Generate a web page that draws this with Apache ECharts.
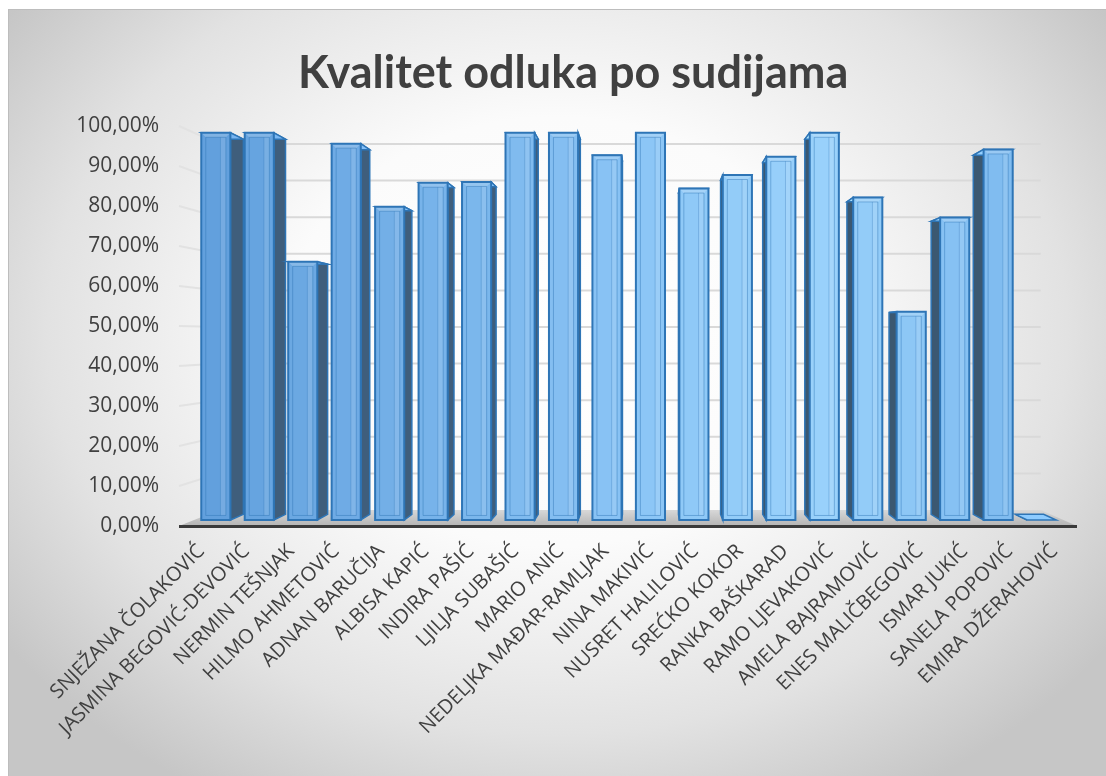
<!DOCTYPE html>
<html>
<head>
<meta charset="utf-8">
<title>Kvalitet odluka po sudijama</title>
<script src="https://cdn.jsdelivr.net/npm/echarts@6/dist/echarts.min.js"></script>
<style>
  html, body { margin: 0; padding: 0; background: #fff; }
  #chart {
    position: absolute; left: 8px; top: 9px; width: 1098px; height: 767px;
    border-top: 1px solid #bdbdbd; border-left: 1px solid #bdbdbd; box-sizing: border-box;
    background: radial-gradient(ellipse 62% 70% at 50% 42%, #ffffff 0%, #fbfbfb 40%, #e2e2e2 75%, #c6c6c6 100%);
  }
</style>
</head>
<body>
<div id="chart"></div>
<script>
// podaci
var judges = ['SNJEŽANA ČOLAKOVIĆ', 'JASMINA BEGOVIĆ-DEVOVIĆ', 'NERMIN TEŠNJAK', 'HILMO AHMETOVIĆ',
  'ADNAN BARUČIJA', 'ALBISA KAPIĆ', 'INDIRA PAŠIĆ', 'LJILJA SUBAŠIĆ', 'MARIO ANIĆ',
  'NEDELJKA MAĐAR-RAMLJAK', 'NINA MAKIVIĆ', 'NUSRET HALILOVIĆ', 'SREĆKO KOKOR', 'RANKA BAŠKARAD',
  'RAMO LJEVAKOVIĆ', 'AMELA BAJRAMOVIĆ', 'ENES MALIČBEGOVIĆ', 'ISMAR JUKIĆ', 'SANELA POPOVIĆ',
  'EMIRA DŽERAHOVIĆ'];
var quality = [1.0, 1.0, 0.6667, 0.972, 0.809, 0.871, 0.873, 1.0, 1.0, 0.942, 1.0, 0.856,
  0.891, 0.938, 1.0, 0.833, 0.538, 0.781, 0.957, 0];
var gridTicks = [0.1, 0.2, 0.3, 0.4, 0.5, 0.6, 0.7, 0.8, 0.9, 1.0];

// "3D" pogled: tacka nestajanja i dubine (udio prema tacki nestajanja)
var VP_FX = 0.525, VP_FY = 0.53;
var D_FRONT = 0.032, D_BACK = 0.062, D_WALL = 0.085;

function vanish(cs) {
  return [cs.x + cs.width * VP_FX, cs.y + cs.height * VP_FY];
}
function proj(x, y, d, vp) {
  return [x + (vp[0] - x) * d, y + (vp[1] - y) * d];
}
function lerpColor(t) {
  var stops = [[0, [96, 158, 220]], [0.5, [138, 196, 245]], [0.72, [154, 210, 251]], [1, [118, 180, 236]]];
  for (var i = 1; i < stops.length; i++) {
    if (t <= stops[i][0]) {
      var a = stops[i - 1], b = stops[i];
      var k = (t - a[0]) / (b[0] - a[0]);
      return [0, 1, 2].map(function (j) { return Math.round(a[1][j] + (b[1][j] - a[1][j]) * k); });
    }
  }
  return stops[stops.length - 1][1];
}
function rgb(c, add) {
  add = add || 0;
  return 'rgb(' + c.map(function (v) { return Math.max(0, Math.min(255, v + add)); }).join(',') + ')';
}

function renderBar(params, api) {
  var cs = params.coordSys;
  var vp = vanish(cs);
  var top = api.coord([api.value(0), api.value(1)]);
  var base = api.coord([api.value(0), 0]);
  var w = api.size([1, 0])[0] * 0.67;
  var xl = top[0] - w / 2, xr = top[0] + w / 2;
  var fTL = proj(xl, top[1], D_FRONT, vp), fTR = proj(xr, top[1], D_FRONT, vp);
  var fBL = proj(xl, base[1], D_FRONT, vp), fBR = proj(xr, base[1], D_FRONT, vp);
  var bTL = proj(xl, top[1], D_BACK, vp), bTR = proj(xr, top[1], D_BACK, vp);
  var bBL = proj(xl, base[1], D_BACK, vp), bBR = proj(xr, base[1], D_BACK, vp);
  var col = lerpColor((top[0] - cs.x) / cs.width);
  var edge = '#2e75b6';
  var kids = [];
  // bocna strana
  if (fTR[0] < vp[0] - 2) {
    kids.push({ type: 'polygon', shape: { points: [fTR, bTR, bBR, fBR] },
      style: { fill: '#3f5e7c', stroke: edge, lineWidth: 1.5 } });
  } else if (fTL[0] > vp[0] + 2) {
    kids.push({ type: 'polygon', shape: { points: [fTL, bTL, bBL, fBL] },
      style: { fill: '#3b5871', stroke: edge, lineWidth: 1.5 } });
  }
  // gornja strana
  kids.push({ type: 'polygon', shape: { points: [fTL, fTR, bTR, bTL] },
    style: { fill: rgb(col, 20), stroke: edge, lineWidth: 1.5 } });
  var h = fBL[1] - fTL[1];
  if (h > 1) {
    var fw = fTR[0] - fTL[0];
    var b = Math.min(4.5, h / 2);
    // prednja strana
    kids.push({ type: 'rect', shape: { x: fTL[0], y: fTL[1], width: fw, height: h },
      style: { fill: rgb(col) } });
    // svijetla traka desno i gore (bevel)
    kids.push({ type: 'rect', shape: { x: fTR[0] - fw * 0.34, y: fTL[1] + b, width: fw * 0.34 - b, height: h - 2 * b },
      style: { fill: 'rgba(255,255,255,0.12)' } });
    kids.push({ type: 'polygon', shape: { points: [fTL, fTR, [fTR[0] - b, fTR[1] + b], [fTL[0] + b, fTL[1] + b]] },
      style: { fill: 'rgba(255,255,255,0.2)' } });
    kids.push({ type: 'rect', shape: { x: fTL[0] + b, y: fTL[1] + b, width: fw - 2 * b, height: h - 2 * b },
      style: { fill: 'none', stroke: 'rgba(46,117,182,0.45)', lineWidth: 1 } });
    kids.push({ type: 'line', shape: { x1: fTR[0] - fw * 0.34, y1: fTL[1] + b, x2: fTR[0] - fw * 0.34, y2: fBL[1] - b },
      style: { stroke: 'rgba(46,117,182,0.3)', lineWidth: 1 } });
    kids.push({ type: 'rect', shape: { x: fTL[0], y: fTL[1], width: fw, height: h },
      style: { fill: 'none', stroke: edge, lineWidth: 2 } });
  }
  return { type: 'group', children: kids };
}

function renderGridLine(params, api) {
  var cs = params.coordSys;
  var vp = vanish(cs);
  var y = api.coord([0, api.value(1)])[1];
  var fl = [cs.x, y];
  var bl = proj(cs.x, y, D_WALL, vp);
  var br = proj(cs.x + cs.width, y, D_WALL, vp);
  return { type: 'group', children: [
    { type: 'line', shape: { x1: fl[0], y1: fl[1], x2: bl[0], y2: bl[1] },
      style: { stroke: '#e2e2e2', lineWidth: 2 } },
    { type: 'line', shape: { x1: bl[0], y1: bl[1], x2: br[0], y2: br[1] },
      style: { stroke: '#d9d9d9', lineWidth: 2 } }
  ] };
}

function renderFloor(params, api) {
  var cs = params.coordSys;
  var vp = vanish(cs);
  var y0 = api.coord([0, 0])[1];
  var fl = [cs.x, y0], fr = [cs.x + cs.width, y0];
  var bl = proj(fl[0], fl[1], D_WALL, vp), br = proj(fr[0], fr[1], D_WALL, vp);
  return { type: 'group', children: [
    { type: 'polygon', shape: { points: [fl, fr, br, bl] },
      style: { fill: { type: 'linear', x: 0, y: 0, x2: 0, y2: 1,
        colorStops: [{ offset: 0, color: '#d8d8d8' }, { offset: 1, color: '#b4b4b4' }] } } },
    { type: 'line', shape: { x1: fl[0], y1: y0 + 0.5, x2: fr[0], y2: y0 + 0.5 },
      style: { stroke: '#3a3a3a', lineWidth: 3 } }
  ] };
}

var chart = echarts.init(document.getElementById('chart'));
chart.setOption({
  backgroundColor: 'transparent',
  animation: false,
  title: {
    text: 'Kvalitet odluka po sudijama',
    left: 284, top: 36,
    textStyle: { fontFamily: 'Lato', fontWeight: 'bold', fontSize: 45, color: '#404040' }
  },
  grid: { left: 170, right: 29, top: 116, bottom: 250 },
  xAxis: {
    type: 'category',
    data: judges,
    axisLine: { show: false },
    axisTick: { show: false },
    axisLabel: { interval: 0, rotate: 45, margin: 22, color: '#404040', fontFamily: 'Open Sans', fontSize: 20 }
  },
  yAxis: {
    type: 'value',
    min: 0, max: 1, interval: 0.1,
    axisLine: { show: false },
    axisTick: { show: false },
    splitLine: { show: false },
    axisLabel: {
      margin: 20, color: '#404040', fontFamily: 'Open Sans', fontSize: 21,
      formatter: function (v) { return (v * 100).toFixed(2).replace('.', ',') + '%'; }
    }
  },
  series: [
    { type: 'custom', renderItem: renderFloor, data: [[0, 0]], z: 1, silent: true },
    { type: 'custom', renderItem: renderGridLine, data: gridTicks.map(function (t) { return [0, t]; }), z: 1, silent: true },
    { type: 'custom', renderItem: renderBar, data: quality.map(function (v, i) { return [i, v]; }), z: 3 }
  ]
});
</script>
</body>
</html>
